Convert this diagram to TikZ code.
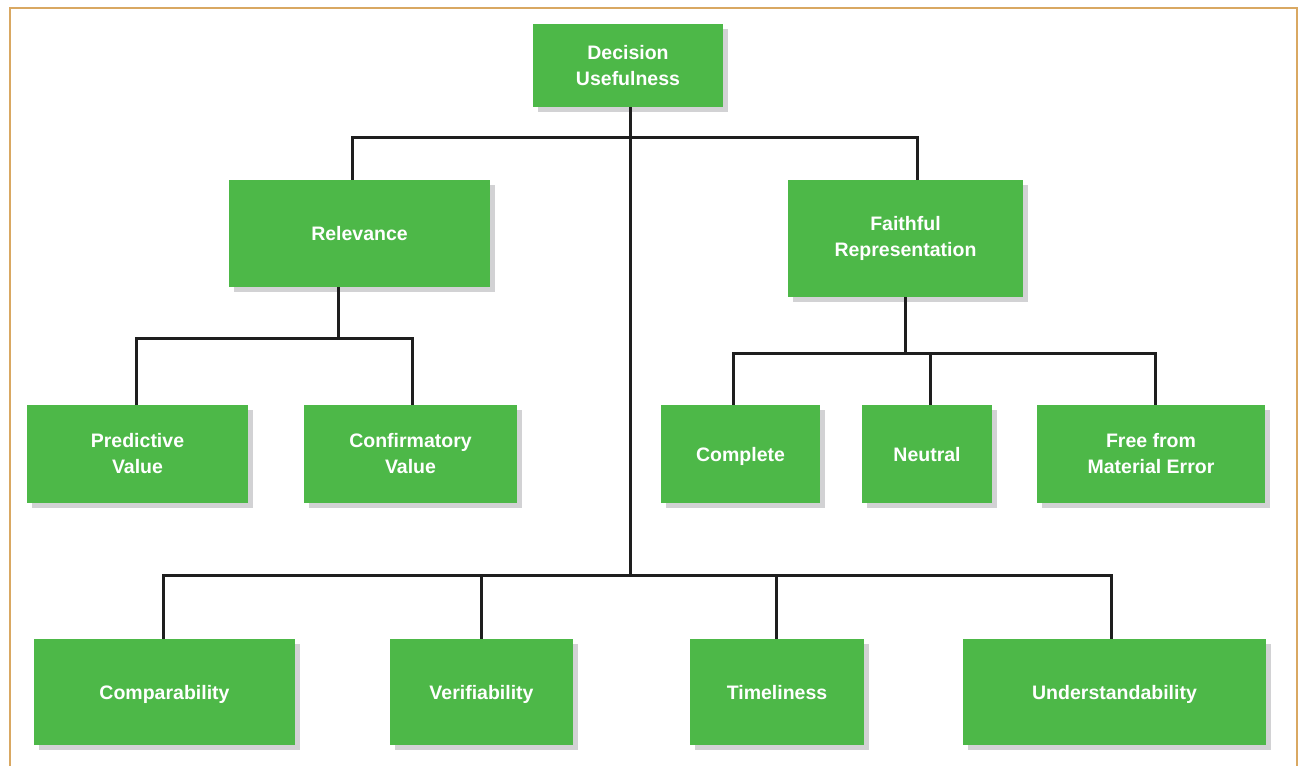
\documentclass[tikz,border=0pt]{standalone}
\usepackage{fontspec}
\setmainfont{Liberation Sans}
\usepackage{tikz}
\usetikzlibrary{calc,positioning,shadows}
\usepackage{xcolor}
\definecolor{verde}{HTML}{4DB848}
\definecolor{sombra}{HTML}{D2D2D4}
\definecolor{marco}{HTML}{D9A862}
\definecolor{linea}{HTML}{1E1E1E}

\begin{document}
\begin{tikzpicture}[x=1pt,y=-1pt,line cap=butt,
  box/.style={fill=verde,text=white,inner sep=0pt,align=center,
    font=\fontsize{19.5}{26}\selectfont\bfseries,
    drop shadow={shadow xshift=5pt,shadow yshift=-5pt,fill=sombra,opacity=1}},
  oneline/.style={box,text height=14pt,text depth=0pt},
  link/.style={linea,line width=3pt}]
  \useasboundingbox (0,0) rectangle (1300,766);
  % marco
  \draw[marco,line width=2.5pt] (10,766) -- (10,8) -- (1297,8) -- (1297,766);
  % nivel superior
  \node[box,minimum width=190,minimum height=83] (dec) at (628,65.5) {Decision\\Usefulness};
  \node[oneline,minimum width=261,minimum height=107] (rel) at (359.5,233.5) {Relevance};
  \node[box,minimum width=235,minimum height=117] (fr) at (905.5,238.5) {Faithful\\Representation};
  % segundo nivel
  \node[box,minimum width=221,minimum height=98] (pred) at (137.5,454) {Predictive\\Value};
  \node[box,minimum width=213,minimum height=98] (conf) at (410.5,454) {Confirmatory\\Value};
  \node[oneline,minimum width=159,minimum height=98] (comp) at (740.5,454) {Complete};
  \node[oneline,minimum width=130,minimum height=98] (neut) at (927,454) {Neutral};
  \node[box,minimum width=228,minimum height=98] (free) at (1151,454) {Free from\\Material Error};
  % cualidades de mejora
  \node[oneline,minimum width=261,minimum height=106] (cmp) at (164.5,692) {Comparability};
  \node[oneline,minimum width=183,minimum height=106] (ver) at (481.5,692) {Verifiability};
  \node[oneline,minimum width=174,minimum height=106] (tim) at (777,692) {Timeliness};
  \node[oneline,minimum width=303,minimum height=106] (und) at (1114.5,692) {Understandability};
  % niveles de las barras
  \coordinate (barA) at (0,137);
  \coordinate (barB) at (0,338);
  \coordinate (barC) at (0,353);
  \coordinate (barD) at (0,575);
  % conectores
  \draw[link] ([xshift=2]dec.south) -- ([xshift=2]dec.south |- barD);
  \draw[link] ([xshift=-7.5]rel.north) -- ([xshift=-7.5]rel.north |- barA) -| ([xshift=11.5]fr.north);
  \draw[link] ([xshift=-21.5]rel.south) -- ([xshift=-21.5]rel.south |- barB);
  \draw[link] ([xshift=-1.5]pred.north) -- ([xshift=-1.5]pred.north |- barB) -| ([xshift=1.5]conf.north);
  \draw[link] (fr.south) -- (fr.south |- barC);
  \draw[link] ([xshift=-7.5]comp.north) -- ([xshift=-7.5]comp.north |- barC) -| ([xshift=4]free.north);
  \draw[link] ([xshift=3]neut.north) -- ([xshift=3]neut.north |- barC);
  \draw[link] ([xshift=-1.5]cmp.north) -- ([xshift=-1.5]cmp.north |- barD) -| ([xshift=-3.5]und.north);
  \draw[link] (ver.north) -- (ver.north |- barD);
  \draw[link] ([xshift=-1]tim.north) -- ([xshift=-1]tim.north |- barD);
\end{tikzpicture}
\end{document}
